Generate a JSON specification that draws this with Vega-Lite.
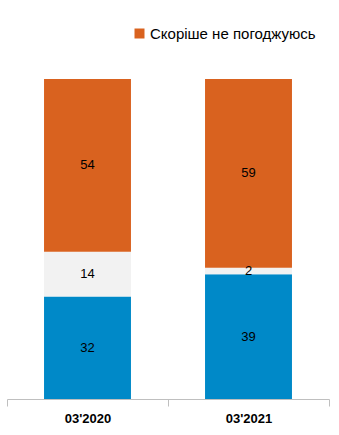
{
  "$schema": "https://vega.github.io/schema/vega-lite/v6.json",
  "width": 322,
  "height": 320,
  "autosize": {"type": "none"},
  "padding": {"left": 7, "top": 79, "right": 10, "bottom": 36},
  "background": "white",
  "data": {
    "values": [
      {"period": "03'2020", "answer": "Скоріше погоджуюсь", "ord": 1, "value": 32},
      {"period": "03'2020", "answer": "Важко відповісти", "ord": 2, "value": 14},
      {"period": "03'2020", "answer": "Скоріше не погоджуюсь", "ord": 3, "value": 54},
      {"period": "03'2021", "answer": "Скоріше погоджуюсь", "ord": 1, "value": 39},
      {"period": "03'2021", "answer": "Важко відповісти", "ord": 2, "value": 2},
      {"period": "03'2021", "answer": "Скоріше не погоджуюсь", "ord": 3, "value": 59}
    ]
  },
  "config": {
    "view": {"stroke": null},
    "font": "Liberation Sans"
  },
  "encoding": {
    "x": {
      "field": "period",
      "type": "nominal",
      "scale": {"paddingInner": 0, "paddingOuter": 0},
      "axis": {
        "title": null,
        "labelAngle": 0,
        "labelFont": "Liberation Sans",
        "labelFontSize": 13,
        "labelFontWeight": "bold",
        "labelColor": "#000000",
        "labelPadding": 6,
        "domainColor": "#bfbfbf",
        "tickColor": "#bfbfbf",
        "tickSize": 7,
        "tickBand": "extent",
        "grid": false
      }
    },
    "y": {
      "field": "value",
      "type": "quantitative",
      "stack": "zero",
      "scale": {"domain": [0, 100], "nice": false},
      "axis": null
    },
    "order": {"field": "ord", "type": "quantitative"}
  },
  "layer": [
    {
      "mark": {"type": "bar", "width": {"band": 0.54}},
      "encoding": {
        "color": {
          "field": "answer",
          "type": "nominal",
          "scale": {
            "domain": ["Скоріше погоджуюсь", "Важко відповісти", "Скоріше не погоджуюсь"],
            "range": ["#0089c8", "#f2f2f2", "#d9621f"]
          },
          "legend": {
            "title": null,
            "values": ["Скоріше не погоджуюсь"],
            "orient": "none",
            "legendX": 125,
            "legendY": -53,
            "symbolType": "square",
            "symbolSize": 100,
            "symbolStrokeWidth": 0,
            "labelFont": "Liberation Sans",
            "labelFontSize": 15,
            "labelColor": "#000000",
            "labelOffset": 3,
            "labelLimit": 300
          }
        }
      }
    },
    {
      "mark": {"type": "text", "font": "Liberation Sans", "fontSize": 13, "color": "#000000"},
      "encoding": {
        "y": {"field": "value", "type": "quantitative", "stack": "zero", "bandPosition": 0.5},
        "text": {"field": "value", "type": "quantitative"}
      }
    }
  ]
}
